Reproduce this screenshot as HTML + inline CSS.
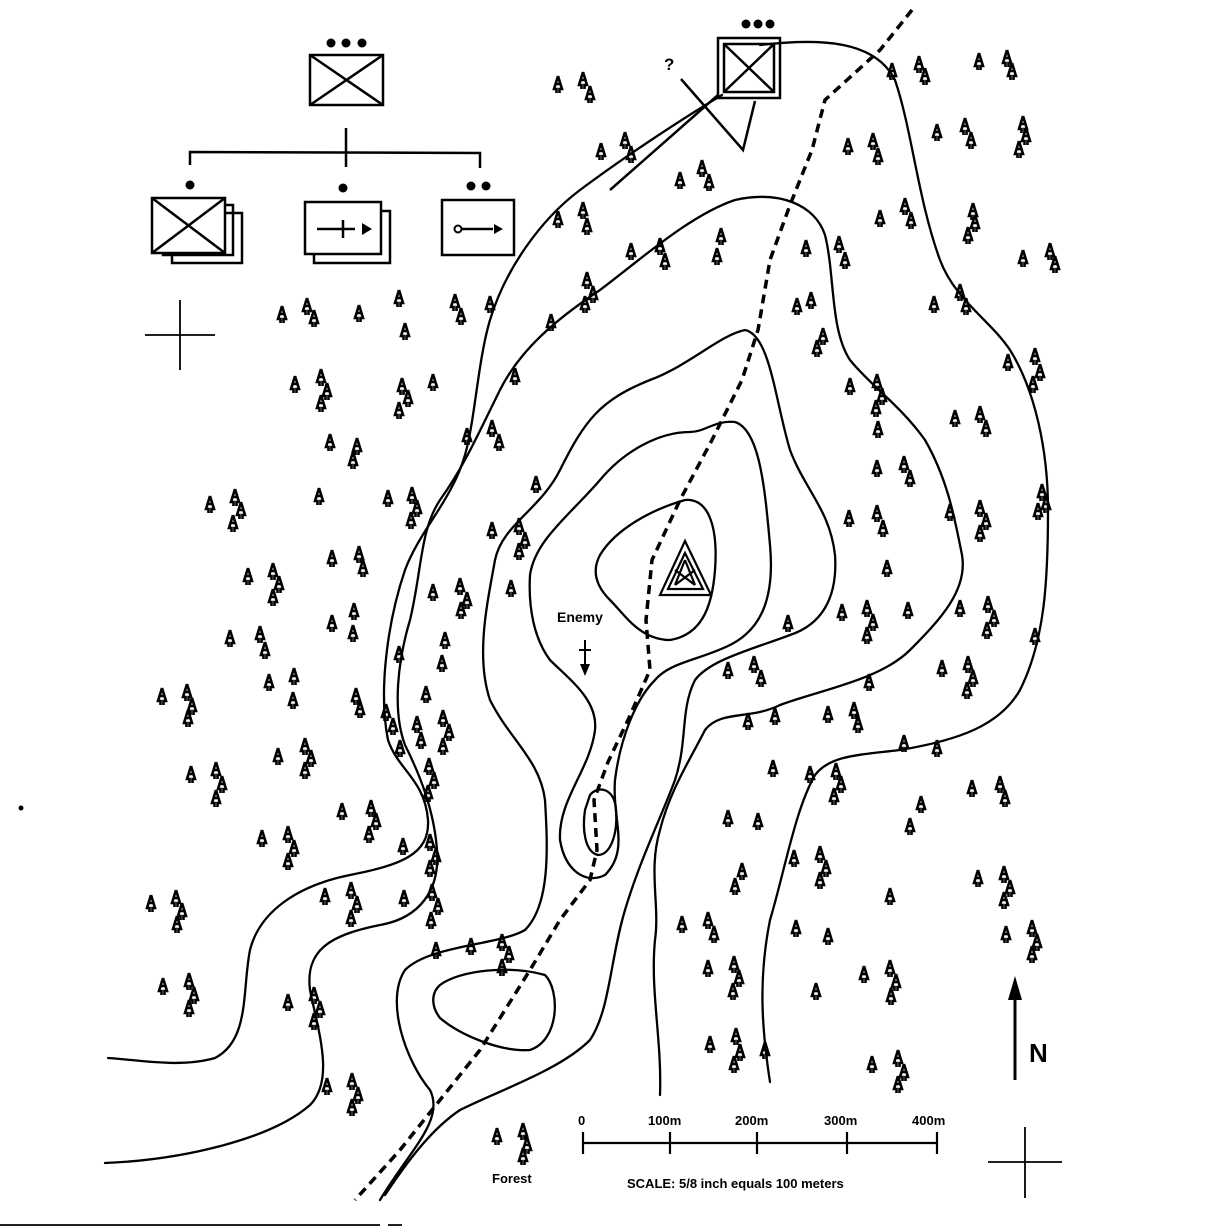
<!DOCTYPE html>
<html><head><meta charset="utf-8"><style>html,body{margin:0;padding:0;background:#fff}svg{display:block}</style></head>
<body>
<svg width="1214" height="1228" viewBox="0 0 1214 1228" xmlns="http://www.w3.org/2000/svg" font-family="Liberation Sans, sans-serif">
<defs>
<symbol id="t" viewBox="0 0 10 18" width="10" height="18" overflow="visible">
<path d="M5,0 L1,13 L3.5,13 L3.5,17 M5,0 L9,13 L6.5,13 L6.5,17 M2.5,8 L7.5,8" fill="none" stroke="#000" stroke-width="2.6"/>
</symbol>
</defs>
<rect width="1214" height="1228" fill="#fff"/>
<g fill="none" stroke="#000" stroke-width="2.3" stroke-linejoin="round" stroke-linecap="round">
<path d="M722,95 C680,120 620,160 580,190 C540,220 505,270 490,320 C478,360 475,420 465,455 C452,500 420,530 405,570 C388,620 378,690 388,740 C398,770 425,780 428,820 C430,855 400,865 350,875 C300,885 260,910 250,950 C242,990 250,1040 215,1058 C180,1068 140,1060 108,1058"/>
<path d="M760,45 C820,38 875,40 895,80 C912,130 918,200 940,260 C955,300 990,320 1010,350 C1035,390 1048,450 1048,510 C1048,580 1045,640 1020,690 C1000,725 960,740 900,750 C860,755 830,755 815,775 C795,810 785,870 770,920 C758,980 762,1030 770,1082"/>
<path d="M105,1163 C180,1160 270,1140 310,1105 C335,1080 318,1030 310,990 C305,950 330,935 380,925 C420,918 440,890 437,850 C434,810 420,775 405,745 C392,710 398,660 410,620 C422,570 420,530 440,500 C465,465 480,430 500,390 C520,350 555,320 600,290 C640,260 690,215 735,200 C780,190 815,205 825,235 C835,275 830,330 850,360 C870,385 900,405 925,440 C948,480 955,520 962,555 C968,590 940,620 910,650 C880,680 820,690 780,705 C750,720 720,710 705,730 C690,760 670,790 660,830 C648,870 660,905 655,940 C650,990 662,1040 660,1095"/>
<path d="M380,1200 C410,1150 445,1120 430,1090 C405,1060 385,1000 405,970 C430,945 500,945 525,930 C550,905 548,850 545,800 C540,760 510,740 490,700 C475,655 488,600 495,560 C502,525 540,510 560,470 C585,420 600,400 650,380 C690,365 720,335 745,330 C770,335 775,400 790,450 C805,490 830,510 835,555 C838,600 820,625 790,635 C750,650 710,660 695,680 C680,710 688,740 675,780 C660,820 640,860 625,910 C610,960 610,1010 590,1040 C560,1070 500,1090 460,1110 C430,1130 405,1165 385,1195"/>
<path d="M530,575 C535,540 570,515 600,480 C625,450 660,432 690,432 C705,432 715,420 735,422 C760,430 765,490 770,545 C775,600 760,630 730,645 C700,660 670,662 655,680 C635,700 620,740 615,780 C612,820 630,850 605,875 C585,885 565,870 560,840 C558,800 590,770 595,730 C598,700 570,680 550,660 C535,640 528,610 530,575 Z"/>
<path d="M600,555 C615,530 650,510 685,500 C710,498 718,530 715,570 C712,610 700,635 670,640 C640,640 625,615 610,600 C595,585 592,570 600,555 Z"/>
<path d="M590,795 C598,785 615,788 616,810 C618,835 610,855 598,855 C585,852 582,830 585,810 Z"/>
<path d="M440,985 C460,970 510,965 545,975 C560,990 560,1040 530,1050 C500,1052 460,1035 440,1018 C430,1005 432,992 440,985 Z"/>
</g>
<path d="M912,10 L880,50 L825,100 L812,150 L790,205 L770,260 L758,330 L742,380 L712,440 L680,500 L652,560 L646,620 L650,670 L628,720 L608,762 L594,800 L597,850 L590,880 L560,920 L530,970 L480,1050 L440,1100 L400,1150 L355,1200" fill="none" stroke="#000" stroke-width="3.5" stroke-dasharray="9,6"/>
<g fill="none" stroke="#000" stroke-width="2.5">
<rect x="718" y="38" width="62" height="60"/>
<rect x="724" y="44" width="50" height="48"/>
<path d="M724,44 L774,92 M774,44 L724,92"/>
<path d="M681,79 L743,150 L755,101 M718,95 L610,190"/>
</g>
<circle cx="746" cy="24" r="4.5"/><circle cx="758" cy="24" r="4.5"/><circle cx="770" cy="24" r="4.5"/>
<text x="664" y="70" font-size="17" font-weight="bold">?</text>
<g fill="none" stroke="#000" stroke-width="2.5">
<rect x="310" y="55" width="73" height="50"/>
<path d="M310,55 L383,105 M383,55 L310,105"/>
<path d="M346,128 L346,167 M190,165 L190,152 L480,153 L480,168"/>
<rect x="172" y="213" width="70" height="50"/><rect x="163" y="205" width="70" height="50"/>
<rect x="152" y="198" width="73" height="55" fill="#fff"/>
<path d="M152,198 L225,253 M225,198 L152,253"/>
<rect x="314" y="211" width="76" height="52"/>
<rect x="305" y="202" width="76" height="52" fill="#fff"/>
<path d="M317,229 L355,229 M343,220 L343,238"/>
<rect x="442" y="200" width="72" height="55"/>
<path d="M461,229 L493,229"/>
</g>
<path d="M362,223 L372,229 L362,235 Z M494,224 L503,229 L494,234 Z"/>
<circle cx="458" cy="229" r="3.5" fill="#fff" stroke="#000" stroke-width="2"/>
<circle cx="331" cy="43" r="4.5"/><circle cx="346" cy="43" r="4.5"/><circle cx="362" cy="43" r="4.5"/>
<circle cx="190" cy="185" r="4.5"/><circle cx="343" cy="188" r="4.5"/><circle cx="471" cy="186" r="4.5"/><circle cx="486" cy="186" r="4.5"/>
<g stroke="#000" stroke-width="1.8">
<path d="M145,335 L215,335 M180,300 L180,370"/>
<path d="M988,1162 L1062,1162 M1025,1127 L1025,1198"/>
<path d="M0,1225 L380,1225 M388,1225 L402,1225"/>
</g>
<circle cx="21" cy="808" r="2.5"/>
<g fill="none" stroke="#000" stroke-width="2.2">
<path d="M685,541 L660,595 L711,595 Z"/><path d="M685,553 L668,589 L703,589 Z"/>
<path d="M685,560 L675,585 M685,560 L695,585 M675,585 L695,570 M695,585 L675,570"/>
</g>
<text x="557" y="622" font-size="14" font-weight="bold">Enemy</text>
<path d="M585,640 L585,668 M579,650 L591,650" stroke="#000" stroke-width="2"/>
<path d="M580,664 L585,676 L590,664 Z"/>
<path d="M1015,1080 L1015,995" stroke="#000" stroke-width="3"/>
<path d="M1008,1000 L1015,976 L1022,1000 Z"/>
<text x="1029" y="1062" font-size="26" font-weight="bold">N</text>
<g stroke="#000" stroke-width="2.2">
<path d="M583,1143 L937,1143 M583,1132 L583,1154 M670,1132 L670,1154 M757,1132 L757,1154 M847,1132 L847,1154 M937,1132 L937,1154"/>
</g>
<g font-size="13" font-weight="bold">
<text x="578" y="1125">0</text><text x="648" y="1125">100m</text><text x="735" y="1125">200m</text><text x="824" y="1125">300m</text><text x="912" y="1125">400m</text>
<text x="627" y="1188">SCALE: 5/8 inch equals 100 meters</text>
<text x="492" y="1183">Forest</text>
</g>
<g>
<use href="#t" x="492" y="1128"/><use href="#t" x="518" y="1123"/><use href="#t" x="522" y="1137"/><use href="#t" x="518" y="1148"/>
<use href="#t" x="553" y="76"/><use href="#t" x="578" y="72"/><use href="#t" x="585" y="86"/>
<use href="#t" x="596" y="143"/><use href="#t" x="620" y="132"/><use href="#t" x="626" y="146"/>
<use href="#t" x="675" y="172"/><use href="#t" x="697" y="160"/><use href="#t" x="704" y="174"/>
<use href="#t" x="553" y="211"/><use href="#t" x="578" y="202"/><use href="#t" x="582" y="218"/>
<use href="#t" x="626" y="243"/><use href="#t" x="655" y="238"/><use href="#t" x="660" y="253"/>
<use href="#t" x="716" y="228"/><use href="#t" x="712" y="248"/>
<use href="#t" x="582" y="272"/><use href="#t" x="588" y="286"/><use href="#t" x="580" y="296"/><use href="#t" x="546" y="314"/>
<use href="#t" x="277" y="306"/><use href="#t" x="302" y="298"/><use href="#t" x="309" y="310"/><use href="#t" x="354" y="305"/>
<use href="#t" x="394" y="290"/><use href="#t" x="400" y="323"/><use href="#t" x="450" y="294"/><use href="#t" x="456" y="308"/><use href="#t" x="485" y="296"/>
<use href="#t" x="290" y="376"/><use href="#t" x="316" y="369"/><use href="#t" x="322" y="383"/><use href="#t" x="316" y="395"/>
<use href="#t" x="397" y="378"/><use href="#t" x="403" y="390"/><use href="#t" x="394" y="402"/><use href="#t" x="428" y="374"/><use href="#t" x="510" y="368"/>
<use href="#t" x="462" y="428"/><use href="#t" x="487" y="420"/><use href="#t" x="494" y="434"/>
<use href="#t" x="325" y="434"/><use href="#t" x="352" y="438"/><use href="#t" x="348" y="452"/>
<use href="#t" x="205" y="496"/><use href="#t" x="230" y="489"/><use href="#t" x="236" y="502"/><use href="#t" x="228" y="515"/>
<use href="#t" x="314" y="488"/><use href="#t" x="383" y="490"/><use href="#t" x="407" y="487"/><use href="#t" x="412" y="500"/><use href="#t" x="406" y="512"/>
<use href="#t" x="531" y="476"/><use href="#t" x="487" y="522"/><use href="#t" x="514" y="518"/><use href="#t" x="520" y="532"/><use href="#t" x="514" y="543"/>
<use href="#t" x="243" y="568"/><use href="#t" x="268" y="563"/><use href="#t" x="274" y="576"/><use href="#t" x="268" y="589"/>
<use href="#t" x="327" y="550"/><use href="#t" x="354" y="546"/><use href="#t" x="358" y="560"/>
<use href="#t" x="428" y="584"/><use href="#t" x="455" y="578"/><use href="#t" x="462" y="592"/><use href="#t" x="456" y="602"/><use href="#t" x="506" y="580"/>
<use href="#t" x="327" y="615"/><use href="#t" x="349" y="603"/><use href="#t" x="348" y="625"/>
<use href="#t" x="225" y="630"/><use href="#t" x="255" y="626"/><use href="#t" x="260" y="642"/>
<use href="#t" x="440" y="632"/><use href="#t" x="437" y="655"/><use href="#t" x="394" y="646"/>
<use href="#t" x="264" y="674"/><use href="#t" x="289" y="668"/><use href="#t" x="288" y="692"/>
<use href="#t" x="157" y="688"/><use href="#t" x="182" y="684"/><use href="#t" x="187" y="698"/><use href="#t" x="183" y="710"/>
<use href="#t" x="351" y="688"/><use href="#t" x="355" y="701"/><use href="#t" x="421" y="686"/>
<use href="#t" x="381" y="704"/><use href="#t" x="388" y="718"/><use href="#t" x="412" y="716"/><use href="#t" x="416" y="732"/>
<use href="#t" x="438" y="710"/><use href="#t" x="444" y="724"/><use href="#t" x="438" y="738"/><use href="#t" x="395" y="740"/>
<use href="#t" x="273" y="748"/><use href="#t" x="300" y="738"/><use href="#t" x="306" y="750"/><use href="#t" x="300" y="762"/>
<use href="#t" x="186" y="766"/><use href="#t" x="211" y="762"/><use href="#t" x="217" y="776"/><use href="#t" x="211" y="790"/>
<use href="#t" x="424" y="758"/><use href="#t" x="429" y="772"/><use href="#t" x="423" y="785"/>
<use href="#t" x="337" y="803"/><use href="#t" x="366" y="800"/><use href="#t" x="371" y="813"/><use href="#t" x="364" y="826"/>
<use href="#t" x="257" y="830"/><use href="#t" x="283" y="826"/><use href="#t" x="289" y="840"/><use href="#t" x="283" y="853"/>
<use href="#t" x="398" y="838"/><use href="#t" x="425" y="834"/><use href="#t" x="431" y="848"/><use href="#t" x="425" y="860"/>
<use href="#t" x="146" y="895"/><use href="#t" x="171" y="890"/><use href="#t" x="177" y="903"/><use href="#t" x="172" y="916"/>
<use href="#t" x="320" y="888"/><use href="#t" x="346" y="882"/><use href="#t" x="352" y="896"/><use href="#t" x="346" y="910"/>
<use href="#t" x="399" y="890"/><use href="#t" x="427" y="884"/><use href="#t" x="433" y="898"/><use href="#t" x="426" y="912"/>
<use href="#t" x="431" y="942"/><use href="#t" x="466" y="938"/><use href="#t" x="497" y="934"/><use href="#t" x="504" y="946"/><use href="#t" x="497" y="959"/>
<use href="#t" x="158" y="978"/><use href="#t" x="184" y="973"/><use href="#t" x="189" y="987"/><use href="#t" x="184" y="1000"/>
<use href="#t" x="283" y="994"/><use href="#t" x="309" y="987"/><use href="#t" x="315" y="1001"/><use href="#t" x="309" y="1013"/>
<use href="#t" x="322" y="1078"/><use href="#t" x="347" y="1073"/><use href="#t" x="353" y="1087"/><use href="#t" x="347" y="1099"/>
<use href="#t" x="843" y="138"/><use href="#t" x="868" y="133"/><use href="#t" x="873" y="148"/>
<use href="#t" x="887" y="63"/><use href="#t" x="914" y="56"/><use href="#t" x="920" y="68"/>
<use href="#t" x="974" y="53"/><use href="#t" x="1002" y="50"/><use href="#t" x="1007" y="63"/>
<use href="#t" x="932" y="124"/><use href="#t" x="960" y="118"/><use href="#t" x="966" y="132"/>
<use href="#t" x="1018" y="116"/><use href="#t" x="1021" y="128"/><use href="#t" x="1014" y="141"/>
<use href="#t" x="875" y="210"/><use href="#t" x="900" y="198"/><use href="#t" x="906" y="212"/>
<use href="#t" x="968" y="203"/><use href="#t" x="970" y="215"/><use href="#t" x="963" y="227"/>
<use href="#t" x="1018" y="250"/><use href="#t" x="1045" y="243"/><use href="#t" x="1050" y="256"/>
<use href="#t" x="801" y="240"/><use href="#t" x="834" y="236"/><use href="#t" x="840" y="252"/>
<use href="#t" x="792" y="298"/><use href="#t" x="806" y="292"/><use href="#t" x="818" y="328"/><use href="#t" x="812" y="340"/>
<use href="#t" x="929" y="296"/><use href="#t" x="955" y="284"/><use href="#t" x="961" y="298"/>
<use href="#t" x="1003" y="354"/><use href="#t" x="1030" y="348"/><use href="#t" x="1035" y="364"/><use href="#t" x="1028" y="376"/>
<use href="#t" x="845" y="378"/><use href="#t" x="872" y="374"/><use href="#t" x="877" y="388"/><use href="#t" x="871" y="400"/><use href="#t" x="873" y="421"/>
<use href="#t" x="872" y="460"/><use href="#t" x="899" y="456"/><use href="#t" x="905" y="470"/>
<use href="#t" x="950" y="410"/><use href="#t" x="975" y="406"/><use href="#t" x="981" y="420"/>
<use href="#t" x="1037" y="484"/><use href="#t" x="1041" y="496"/><use href="#t" x="1033" y="503"/>
<use href="#t" x="945" y="504"/><use href="#t" x="975" y="500"/><use href="#t" x="981" y="513"/><use href="#t" x="975" y="525"/>
<use href="#t" x="844" y="510"/><use href="#t" x="872" y="505"/><use href="#t" x="878" y="520"/><use href="#t" x="882" y="560"/>
<use href="#t" x="955" y="600"/><use href="#t" x="983" y="596"/><use href="#t" x="989" y="610"/><use href="#t" x="982" y="622"/>
<use href="#t" x="837" y="604"/><use href="#t" x="862" y="600"/><use href="#t" x="868" y="614"/><use href="#t" x="862" y="627"/><use href="#t" x="903" y="602"/><use href="#t" x="783" y="615"/>
<use href="#t" x="937" y="660"/><use href="#t" x="963" y="656"/><use href="#t" x="968" y="670"/><use href="#t" x="962" y="682"/>
<use href="#t" x="1030" y="628"/><use href="#t" x="864" y="674"/>
<use href="#t" x="723" y="662"/><use href="#t" x="749" y="656"/><use href="#t" x="756" y="670"/>
<use href="#t" x="743" y="713"/><use href="#t" x="770" y="708"/><use href="#t" x="823" y="706"/><use href="#t" x="849" y="702"/><use href="#t" x="853" y="716"/>
<use href="#t" x="899" y="735"/><use href="#t" x="932" y="740"/>
<use href="#t" x="768" y="760"/><use href="#t" x="805" y="766"/><use href="#t" x="831" y="763"/><use href="#t" x="836" y="776"/><use href="#t" x="829" y="788"/>
<use href="#t" x="916" y="796"/><use href="#t" x="905" y="818"/>
<use href="#t" x="967" y="780"/><use href="#t" x="995" y="776"/><use href="#t" x="1000" y="790"/>
<use href="#t" x="723" y="810"/><use href="#t" x="753" y="813"/>
<use href="#t" x="789" y="850"/><use href="#t" x="815" y="846"/><use href="#t" x="821" y="860"/><use href="#t" x="815" y="872"/>
<use href="#t" x="737" y="863"/><use href="#t" x="730" y="878"/><use href="#t" x="885" y="888"/>
<use href="#t" x="973" y="870"/><use href="#t" x="999" y="866"/><use href="#t" x="1005" y="880"/><use href="#t" x="999" y="892"/>
<use href="#t" x="1001" y="926"/><use href="#t" x="1027" y="920"/><use href="#t" x="1032" y="934"/><use href="#t" x="1027" y="946"/>
<use href="#t" x="677" y="916"/><use href="#t" x="703" y="912"/><use href="#t" x="709" y="926"/><use href="#t" x="791" y="920"/><use href="#t" x="823" y="928"/>
<use href="#t" x="703" y="960"/><use href="#t" x="729" y="956"/><use href="#t" x="734" y="970"/><use href="#t" x="728" y="983"/>
<use href="#t" x="859" y="966"/><use href="#t" x="885" y="960"/><use href="#t" x="891" y="974"/><use href="#t" x="886" y="988"/><use href="#t" x="811" y="983"/>
<use href="#t" x="705" y="1036"/><use href="#t" x="731" y="1028"/><use href="#t" x="735" y="1044"/><use href="#t" x="729" y="1056"/><use href="#t" x="760" y="1042"/>
<use href="#t" x="867" y="1056"/><use href="#t" x="893" y="1050"/><use href="#t" x="899" y="1064"/><use href="#t" x="893" y="1076"/>
</g>
</svg>
</body></html>
